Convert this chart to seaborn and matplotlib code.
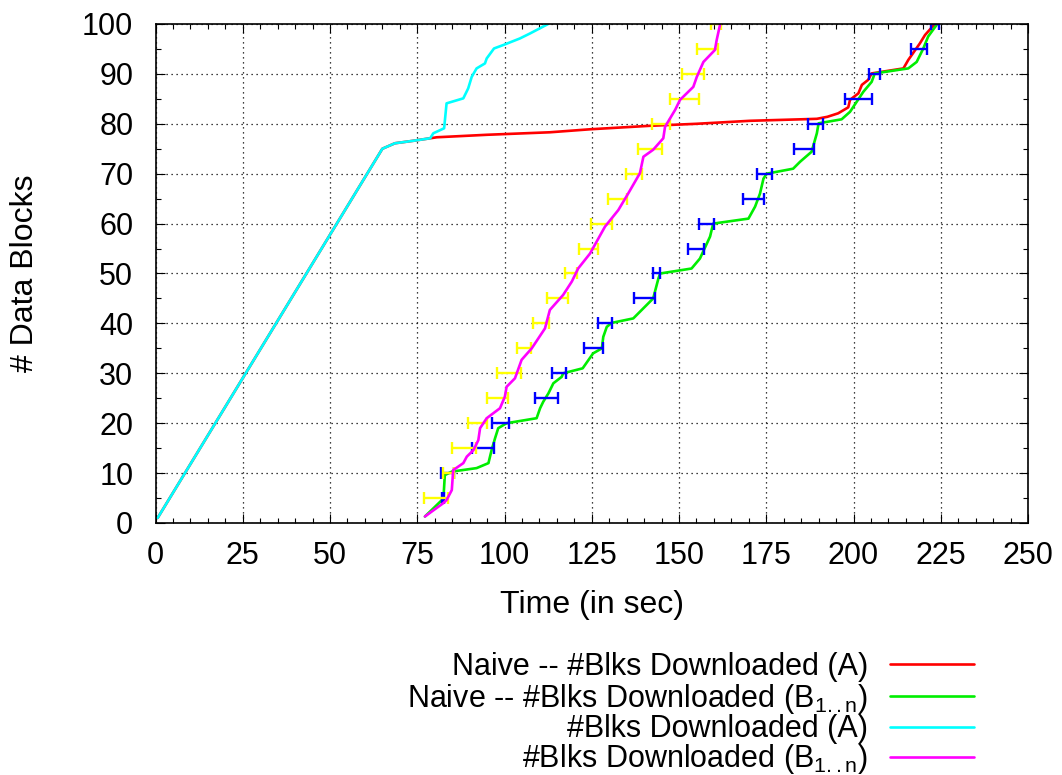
import numpy as np
import pandas as pd
import matplotlib
matplotlib.use("Agg")
import matplotlib.pyplot as plt
import seaborn as sns
from matplotlib.lines import Line2D
from matplotlib.ticker import MultipleLocator

# ---------------- data ----------------
naive_a_x = [0.6, 65, 68.6, 73.9, 78.7, 80.6, 95, 113, 124.5, 141.7, 155, 170.3, 185,
             189.5, 192.5, 195.6, 198.5, 199, 201.4, 202.4, 204.2, 205.2, 214.3, 215.7,
             219, 220.5, 223.3]
naive_a_y = [1, 75, 76.1, 76.6, 77.1, 77.3, 77.8, 78.3, 78.9, 79.6, 80.0, 80.6, 80.9,
             81, 81.4, 82.1, 83.3, 84.8, 86.1, 87.8, 88.8, 90.1, 91.1, 92.8,
             96.1, 97.8, 100]

naive_b_x = [77.2, 82.5, 82.9, 84.9, 92, 95.4, 96.3, 97.3, 98.2, 100.6, 109.2, 110.2,
             111.1, 112.6, 114, 116.4, 116.8, 122.4, 125.4, 127.9, 128.3, 129.3, 130.7,
             136.9, 142.6, 144.1, 144.6, 153.6, 156, 158.9, 159.8, 169.9, 171.8, 173.2,
             174.2, 175.1, 182.7, 184.7, 188, 189.5, 190, 196.6, 199, 200.9, 202.8,
             205.2, 206.1, 215.7, 218.1, 220, 221.4, 223.8]
naive_b_y = [1.3, 4.9, 9.6, 10.3, 11, 12, 14.6, 17, 19, 20, 21, 23,
             24.3, 26, 28, 29.3, 30, 31, 34, 35, 37.3, 39.3, 40.1,
             41, 45, 49, 50, 51, 53, 57.4, 60, 61, 63.4, 66,
             69, 70, 71, 72.4, 74.4, 78.1, 80.1, 80.9, 82.4, 84.4, 86.4,
             88.4, 90.1, 91.1, 92.4, 95.1, 97.5, 99.8]

a_x = [0.6, 65, 68.6, 73.9, 78.7, 79.6, 82.7, 83.4, 88.2, 89.6, 90.6, 92, 94.4, 94.9,
       97, 99.7, 104.4, 107.3, 112.5]
a_y = [1, 75, 76.1, 76.6, 77.1, 78.1, 79.1, 84.1, 85.1, 87.1, 89.4, 91.1, 92.1, 93.1,
       95.1, 95.8, 97.1, 98.1, 100]

b_x = [77.2, 82.5, 83.4, 84.9, 85.3, 88.2, 89.2, 91.1, 92.5, 93, 94.9, 98.7, 100.1,
       100.6, 103, 104.9, 107.8, 111.6, 113, 116.8, 119.3, 121.1, 124.5, 128.8, 132.6,
       135.5, 138.8, 139.8, 142.6, 145.5, 146, 148.9, 150.3, 154.1, 155.1, 157, 160.3,
       160.8, 161.8]
b_y = [1.3, 4.0, 4.6, 6.6, 10.6, 12, 13.3, 14.6, 16.6, 19, 21, 23, 25.3,
       27.3, 29, 32.7, 35, 39, 42.7, 45.7, 48.4, 51, 54, 59.4, 62.7,
       66.1, 70.1, 73.4, 74.8, 77.1, 79.4, 82.8, 84.8, 87.4, 89.4, 92.4, 94.8,
       96.8, 100]

bar_levels = [5, 10, 15, 20, 25, 30, 35, 40, 45, 50, 55, 60, 65, 70, 75, 80, 85, 90, 95, 100]
naive_b_lo = [82.0, 81.7, 90.6, 96.5, 108.7, 113.5, 122.7, 126.7, 137.2, 142.5,
              152.5, 155.7, 168.2, 172.4, 183.0, 187.0, 197.6, 204.4, 216.5, 222.1]
naive_b_hi = [82.8, 85.5, 97.0, 101.4, 115.2, 117.5, 128.3, 130.7, 143.1, 144.6,
              157.3, 160.1, 174.4, 176.6, 188.8, 191.2, 205.4, 207.6, 221.0, 224.5]
b_lo = [76.9, 82.3, 85.0, 89.6, 95.1, 97.8, 103.5, 108.3, 112.1, 117.3,
        121.3, 124.8, 129.6, 134.8, 138.2, 142.2, 147.4, 150.9, 155.2, 159.2]
b_hi = [83.9, 85.5, 91.8, 94.9, 101.1, 104.6, 107.6, 112.8, 118.3, 120.9,
        126.7, 130.9, 135.0, 139.3, 145.0, 147.4, 155.8, 157.2, 161.3, 161.9]

labels = ["Naive -- #Blks Downloaded (A)",
          r"Naive -- #Blks Downloaded (B$_{\mathregular{1..n}}$)",
          "#Blks Downloaded (A)",
          r"#Blks Downloaded (B$_{\mathregular{1..n}}$)"]
colors = ["#ff0000", "#00ee00", "#00ffff", "#ff00ff"]
bar_colors = ["#0000ff", "#ffff00"]

# ---------------- style ----------------
sns.set_style("ticks")
plt.rcParams["font.family"] = ["Liberation Sans", "DejaVu Sans"]
plt.rcParams["mathtext.fontset"] = "custom"
plt.rcParams["mathtext.rm"] = "Liberation Sans"
plt.rcParams["mathtext.it"] = "Liberation Sans:italic"
plt.rcParams["text.color"] = "black"
plt.rcParams["axes.labelcolor"] = "black"
plt.rcParams["xtick.color"] = "black"
plt.rcParams["ytick.color"] = "black"

W, H = 1062, 775
fig = plt.figure(figsize=(W / 100, H / 100), dpi=100)
ax = fig.add_axes([155.5 / W, 1 - 523 / H, (1028 - 155.5) / W, (523 - 24) / H])

lw = 1.9


def errbars(lo, hi, levels, color):
    lo = np.asarray(lo)
    hi = np.asarray(hi)
    mid = (lo + hi) / 2
    ax.errorbar(mid, levels, xerr=(hi - lo) / 2, fmt="none", ecolor=color,
                elinewidth=1.7, capsize=4.5, capthick=1.7, zorder=3)


sns.lineplot(x=naive_a_x, y=naive_a_y, sort=False, estimator=None, color=colors[0],
             linewidth=lw, ax=ax, zorder=2)
sns.lineplot(x=naive_b_x, y=naive_b_y, sort=False, estimator=None, color=colors[1],
             linewidth=lw, ax=ax, zorder=2)
errbars(naive_b_lo, naive_b_hi, bar_levels, bar_colors[0])
sns.lineplot(x=a_x, y=a_y, sort=False, estimator=None, color=colors[2],
             linewidth=lw, ax=ax, zorder=4)
sns.lineplot(x=b_x, y=b_y, sort=False, estimator=None, color=colors[3],
             linewidth=lw, ax=ax, zorder=4)
errbars(b_lo, b_hi, bar_levels, bar_colors[1])

ax.set_xlim(0, 250)
ax.set_ylim(0, 100)
ax.set_xticks(range(0, 251, 25))
ax.set_yticks(range(0, 101, 10))
ax.xaxis.set_minor_locator(MultipleLocator(5))
ax.yaxis.set_minor_locator(MultipleLocator(5))
ax.tick_params(which="both", direction="in", top=True, right=True, width=0.8,
               color="black", labelcolor="black")
ax.tick_params(which="major", length=6.5, labelsize=22)
ax.tick_params(which="minor", length=3.5)
ax.tick_params(axis="x", which="major", pad=13)
ax.tick_params(axis="y", which="major", pad=16)
ax.grid(True, which="major", linestyle=(0, (1, 3)), color="black", linewidth=0.9)
ax.set_axisbelow(True)
for s in ax.spines.values():
    s.set_linewidth(1.2)
    s.set_color("black")
    s.set_zorder(5)

ax.set_xlabel("Time (in sec)", fontsize=23, labelpad=14, color="black")
ax.set_ylabel("# Data Blocks", fontsize=23, labelpad=30, color="black")

# legend (gnuplot style: right-aligned text, sample to the right)
rows_y = [664, 695.5, 726.5, 756.5]
for lab, col, yy in zip(labels, colors, rows_y):
    fig.text(868 / W, 1 - (yy + 11) / H, lab, ha="right", va="baseline", fontsize=22,
             color="black")
    fig.add_artist(Line2D([890 / W, 974 / W], [1 - yy / H, 1 - yy / H], color=col,
                          linewidth=lw, transform=fig.transFigure))

fig.savefig("out.png", dpi=100)
